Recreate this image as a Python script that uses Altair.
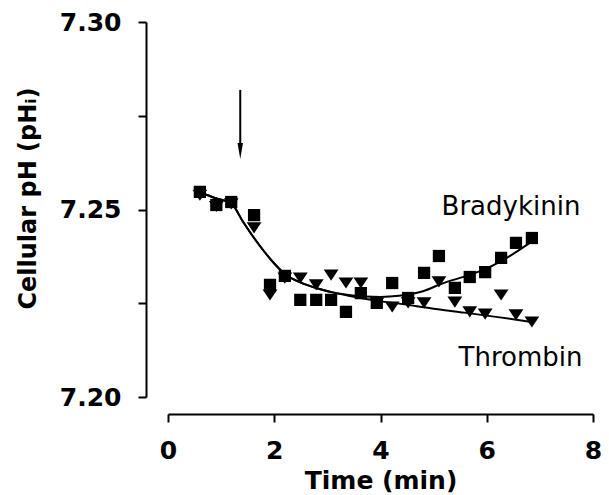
import altair as alt
import pandas as pd

# Sample times (min)
times = [0.60, 0.91, 1.19, 1.62, 1.92, 2.20, 2.49, 2.79, 3.07, 3.35, 3.63,
         3.93, 4.22, 4.52, 4.82, 5.10, 5.40, 5.68, 5.97, 6.27, 6.55, 6.85]
# Bradykinin (squares)
brady_ph = [7.2547, 7.2512, 7.2520, 7.2485, 7.2299, 7.2323, 7.2259, 7.2259,
            7.2259, 7.2227, 7.2277, 7.2251, 7.2304, 7.2264, 7.2331, 7.2376,
            7.2291, 7.2320, 7.2333, 7.2371, 7.2411, 7.2424]
# Thrombin (triangles)
thr_ph = [7.2538, 7.2508, 7.2515, 7.2451, 7.2272, 7.2317, 7.2317, 7.2299,
          7.2325, 7.2304, 7.2304, 7.2250, 7.2240, 7.2251, 7.2251, 7.2307,
          7.2253, 7.2227, 7.2221, 7.2272, 7.2219, 7.2200]

# Fitted curves
fit_b_t = [0.60, 0.9, 1.2, 1.4, 1.6, 1.8, 2.0, 2.2, 2.5, 2.8, 3.1, 3.4, 3.7,
           4.0, 4.35, 4.8, 5.15, 5.66, 6.0, 6.4, 6.85]
fit_b_ph = [7.2546, 7.2530, 7.2515, 7.2470, 7.2428, 7.2390, 7.2356, 7.2328,
            7.2305, 7.2290, 7.2279, 7.2272, 7.2268, 7.2267, 7.2270, 7.2282,
            7.2302, 7.2325, 7.2343, 7.2373, 7.2415]
fit_t_t = [0.60, 0.9, 1.2, 1.4, 1.6, 1.8, 2.0, 2.2, 2.5, 2.8, 3.1, 3.4, 3.7,
           4.0, 4.35, 4.97, 5.58, 6.21, 6.85]
fit_t_ph = [7.2546, 7.2530, 7.2515, 7.2470, 7.2428, 7.2390, 7.2356, 7.2328,
            7.2305, 7.2290, 7.2279, 7.2270, 7.2262, 7.2255, 7.2249, 7.2236,
            7.2225, 7.2213, 7.2200]

labels = ["Bradykinin", "Thrombin"]
label_t = [5.15, 5.47]
label_ph = [7.2507, 7.2104]

arrow_t = [1.36]
arrow_top = [7.2819]
arrow_head = [7.2656]

x_ticks = [0, 2, 4, 6, 8]
y_ticks = [7.20, 7.225, 7.25, 7.275, 7.30]

pts = pd.DataFrame({"t": times * 2, "ph": brady_ph + thr_ph,
                    "s": ["Bradykinin"] * len(times) + ["Thrombin"] * len(times)})
fit_b = pd.DataFrame({"t": fit_b_t, "ph": fit_b_ph})
fit_t = pd.DataFrame({"t": fit_t_t, "ph": fit_t_ph})
lab = pd.DataFrame({"label": labels, "t": label_t, "ph": label_ph})
arr = pd.DataFrame({"t": arrow_t, "top": arrow_top, "head": arrow_head})

xs = alt.Scale(domain=[0, 8], nice=False)
ys = alt.Scale(domain=[7.20, 7.30], nice=False, zero=False)

xax = alt.Axis(values=x_ticks, title="Time (min)", offset=17, labelPadding=16,
               labelFontSize=25, labelFontWeight="bold", titleFontSize=25,
               titleFontWeight="bold", titleBaseline="middle", titleY=66,
               labelFlush=False)
yax = alt.Axis(values=y_ticks, title="Cellular pH (pHᵢ)", offset=22,
               labelPadding=17, labelFontSize=25, labelFontWeight="bold",
               labelExpr="round(datum.value*1000) % 50 == 0 ? format(datum.value, '.2f') : ''",
               titleFontSize=24, titleFontWeight="bold", titleBaseline="middle",
               titleX=-118, titleY=176, labelFlush=False)

X = alt.X("t:Q", scale=xs, axis=xax)
Y = alt.Y("ph:Q", scale=ys, axis=yax)

tri_path = "M-1,-0.75L1,-0.75L0,0.75Z"

tri = alt.Chart(pts).transform_filter(alt.datum.s == "Thrombin").mark_point(
    shape=tri_path, filled=True, color="black", size=220, opacity=1
).encode(x=X, y=Y)

sq = alt.Chart(pts).transform_filter(alt.datum.s == "Bradykinin").mark_point(
    shape="square", filled=True, color="black", size=150, opacity=1
).encode(x=alt.X("t:Q", scale=xs), y=alt.Y("ph:Q", scale=ys))

line_b = alt.Chart(fit_b).mark_line(color="black", strokeWidth=2,
                                    interpolate="monotone").encode(
    x=alt.X("t:Q", scale=xs), y=alt.Y("ph:Q", scale=ys))
line_t = alt.Chart(fit_t).mark_line(color="black", strokeWidth=2,
                                    interpolate="monotone").encode(
    x=alt.X("t:Q", scale=xs), y=alt.Y("ph:Q", scale=ys))

text = alt.Chart(lab).mark_text(align="left", baseline="middle", fontSize=26,
                                font="DejaVu Sans", color="black").encode(
    x=alt.X("t:Q", scale=xs), y=alt.Y("ph:Q", scale=ys), text="label:N")

arrow_line = alt.Chart(arr).mark_rule(color="black", strokeWidth=2).encode(
    x=alt.X("t:Q", scale=xs), y=alt.Y("top:Q", scale=ys), y2="head:Q")
arrow_tip = alt.Chart(arr).mark_point(
    shape="M-0.34,-1L0,1L0.34,-1Z", filled=True, color="black", size=256, opacity=1
).encode(x=alt.X("t:Q", scale=xs), y=alt.Y("head:Q", scale=ys))

chart = alt.layer(line_b, line_t, tri, sq, text, arrow_line, arrow_tip).properties(
    width=425, height=375,
    autosize=alt.AutoSizeParams(type="none"),
    padding={"left": 160, "top": 14, "right": 8, "bottom": 98},
).configure_view(stroke=None).configure_axis(
    grid=False, domainColor="black", domainWidth=2, tickColor="black",
    tickWidth=2, tickSize=8, labelColor="black", titleColor="black",
    labelFont="DejaVu Sans", titleFont="DejaVu Sans"
)

chart.save("out.html", embed_options={"renderer": "svg", "actions": False})
